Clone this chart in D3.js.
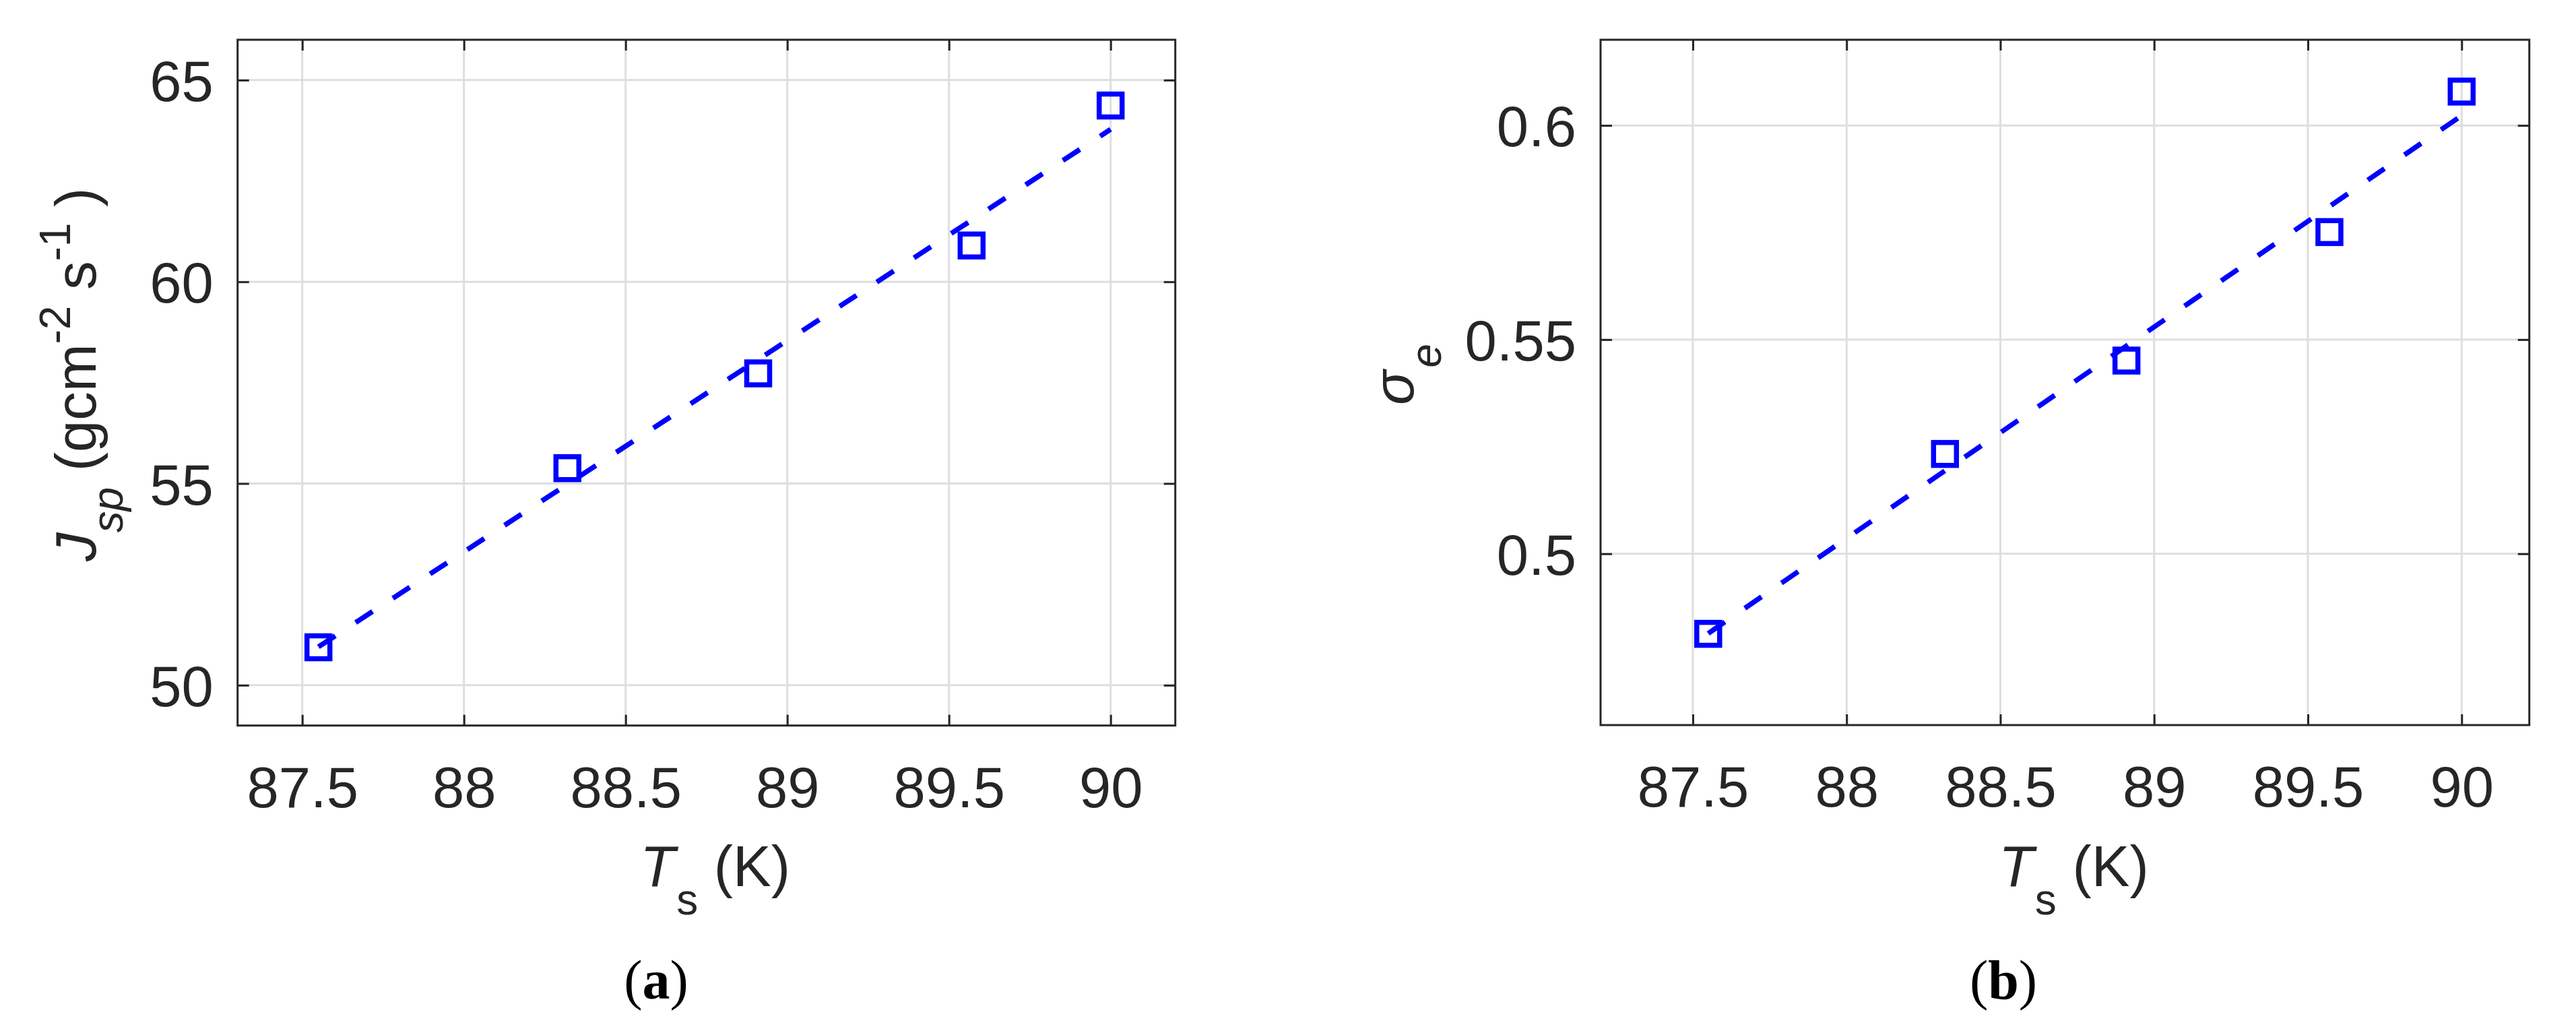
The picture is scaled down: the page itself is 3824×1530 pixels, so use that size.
<!DOCTYPE html>
<html>
<head>
<meta charset="utf-8">
<script src="https://cdn.jsdelivr.net/npm/d3@7"></script>
<style>
  html, body { margin: 0; padding: 0; background: #ffffff; }
  svg { display: block; }
</style>
</head>
<body>
<script>
// ---------- data ----------
const temps = [87.55, 88.32, 88.91, 89.57, 90.0];           // T_s (K)
const jsp = [50.94, 55.38, 57.73, 60.90, 64.37];            // J_sp (g cm^-2 s^-1)
const sigmaE = [0.4813, 0.5233, 0.5451, 0.5751, 0.6079];    // sigma_e
const fitT = [87.55, 90.0];                                 // fit line ends (x)
const fitJsp = [50.95, 63.78];                              // fit line ends, panel a
const fitSigma = [0.4814, 0.6023];                          // fit line ends, panel b
const xTicks = [87.5, 88, 88.5, 89, 89.5, 90];
const xTickLabels = ["87.5", "88", "88.5", "89", "89.5", "90"];
const jspTicks = [50, 55, 60, 65];
const jspTickLabels = ["50", "55", "60", "65"];
const sigmaTicks = [0.5, 0.55, 0.6];
const sigmaTickLabels = ["0.5", "0.55", "0.6"];
const panelLabels = ["a", "b"];

// ---------- layout ----------
const W = 3824, H = 1530;
const AX = "#262626", GRID = "#dedede", BLUE = "#0000ff";
const FONT = "'Liberation Sans', Arial, Helvetica, sans-serif";
const FS = 85, SUB = 64;

const svg = d3.select("body").append("svg")
  .attr("width", W).attr("height", H)
  .attr("viewBox", `0 0 ${W} ${H}`);
svg.append("rect").attr("width", W).attr("height", H).attr("fill", "#fff");

function panel(cfg) {
  const x = d3.scaleLinear().domain(cfg.xDomain).range([cfg.left, cfg.right]);
  const y = d3.scaleLinear().domain(cfg.yDomain).range([cfg.bottom, cfg.top]);
  const g = svg.append("g");

  // grid
  g.append("g").selectAll("line").data(xTicks).join("line")
    .attr("x1", d => x(d)).attr("x2", d => x(d))
    .attr("y1", cfg.top).attr("y2", cfg.bottom)
    .attr("stroke", GRID).attr("stroke-width", 3);
  g.append("g").selectAll("line").data(cfg.yTicks).join("line")
    .attr("x1", cfg.left).attr("x2", cfg.right)
    .attr("y1", d => y(d)).attr("y2", d => y(d))
    .attr("stroke", GRID).attr("stroke-width", 3);

  // axes (ticks inward on all four sides)
  const fmtX = (d, i) => xTickLabels[i];
  const fmtY = (d, i) => cfg.yTickLabels[i];
  const styleAxis = sel => {
    sel.select(".domain").remove();
    sel.selectAll(".tick line").attr("stroke", AX).attr("stroke-width", 3);
    sel.selectAll(".tick text").attr("fill", AX)
      .style("font-family", FONT).style("font-size", FS + "px");
  };
  g.append("g").attr("transform", `translate(0,${cfg.bottom})`)
    .call(d3.axisBottom(x).tickValues(xTicks).tickFormat(fmtX)
      .tickSizeInner(-16).tickSizeOuter(0).tickPadding(61))
    .call(styleAxis);
  g.append("g").attr("transform", `translate(0,${cfg.top})`)
    .call(d3.axisTop(x).tickValues(xTicks).tickFormat("")
      .tickSizeInner(-16).tickSizeOuter(0))
    .call(styleAxis);
  g.append("g").attr("transform", `translate(${cfg.left},0)`)
    .call(d3.axisLeft(y).tickValues(cfg.yTicks).tickFormat(fmtY)
      .tickSizeInner(-17).tickSizeOuter(0).tickPadding(36))
    .call(styleAxis)
    .call(s => s.selectAll(".tick text").attr("dy", "0.36em"));
  g.append("g").attr("transform", `translate(${cfg.right},0)`)
    .call(d3.axisRight(y).tickValues(cfg.yTicks).tickFormat("")
      .tickSizeInner(-17).tickSizeOuter(0))
    .call(styleAxis);

  // box
  g.append("rect")
    .attr("x", cfg.left).attr("y", cfg.top)
    .attr("width", cfg.right - cfg.left).attr("height", cfg.bottom - cfg.top)
    .attr("fill", "none").attr("stroke", AX).attr("stroke-width", 3);

  // dashed fit line
  const fitData = fitT.map((t, i) => [t, cfg.fit[i]]);
  g.append("path").datum(fitData)
    .attr("d", d3.line().x(d => x(d[0])).y(d => y(d[1])))
    .attr("fill", "none").attr("stroke", BLUE).attr("stroke-width", 7.5)
    .attr("stroke-dasharray", "30,36");

  // square markers
  const S = 34;
  g.append("g").selectAll("rect").data(temps.map((t, i) => [t, cfg.vals[i]])).join("rect")
    .attr("x", d => x(d[0]) - S / 2).attr("y", d => y(d[1]) - S / 2)
    .attr("width", S).attr("height", S)
    .attr("fill", "none").attr("stroke", BLUE).attr("stroke-width", 7.5);

  // x label: T_s (K)
  const cx = (cfg.left + cfg.right) / 2 + 13;
  const xl = g.append("text").attr("x", cx).attr("y", 1315)
    .attr("text-anchor", "middle").attr("fill", AX)
    .style("font-family", FONT).style("font-size", FS + "px");
  xl.append("tspan").style("font-style", "italic").text("T");
  xl.append("tspan").attr("dx", 2).attr("dy", 42).style("font-size", SUB + "px").text("s");
  xl.append("tspan").attr("dy", -42).text("\u00a0(K)");

  // y label
  const cy = (cfg.top + cfg.bottom) / 2 - 12;
  const yl = g.append("text")
    .attr("transform", `translate(${cfg.yLabelX},${cy}) rotate(-90)`)
    .attr("text-anchor", "middle").attr("fill", AX)
    .style("font-family", FONT).style("font-size", FS + "px");
  cfg.yLabel(yl);

  // panel label (a)/(b)
  const pl = svg.append("text").attr("x", cfg.panelX).attr("y", 1482)
    .attr("text-anchor", "middle").attr("fill", "#000")
    .style("font-family", "'Liberation Serif', 'Times New Roman', serif")
    .style("font-size", "82px");
  pl.append("tspan").text("(");
  pl.append("tspan").style("font-weight", "bold").text(cfg.panelLabel);
  pl.append("tspan").text(")");
}

panel({
  left: 352.7, right: 1744.7, top: 59, bottom: 1076.7,
  xDomain: [87.3, 90.2], yDomain: [49, 66],
  yTicks: jspTicks, yTickLabels: jspTickLabels,
  vals: jsp, fit: fitJsp,
  yLabelX: 142, panelX: 974, panelLabel: panelLabels[0],
  yLabel: t => {
    t.append("tspan").style("font-style", "italic").text("J");
    t.append("tspan").attr("dy", 40).style("font-style", "italic").style("font-size", SUB + "px").text("sp");
    t.append("tspan").attr("dy", -40).text("\u00a0(gcm");
    t.append("tspan").attr("dy", -38).style("font-size", SUB + "px").text("-2");
    t.append("tspan").attr("dy", 38).text("\u00a0s");
    t.append("tspan").attr("dy", -38).style("font-size", SUB + "px").text("-1");
    t.append("tspan").attr("dy", 38).text("\u00a0)");
  }
});

panel({
  left: 2376, right: 3754.7, top: 59, bottom: 1076,
  xDomain: [87.2, 90.22], yDomain: [0.46, 0.62],
  yTicks: sigmaTicks, yTickLabels: sigmaTickLabels,
  vals: sigmaE, fit: fitSigma,
  yLabelX: 2098, panelX: 2974, panelLabel: panelLabels[1],
  yLabel: t => {
    t.append("tspan").style("font-style", "italic").text("\u03c3");
    t.append("tspan").attr("dx", 4).attr("dy", 41).style("font-style", "italic").style("font-size", SUB + "px").text("e");
  }
});
</script>
</body>
</html>
